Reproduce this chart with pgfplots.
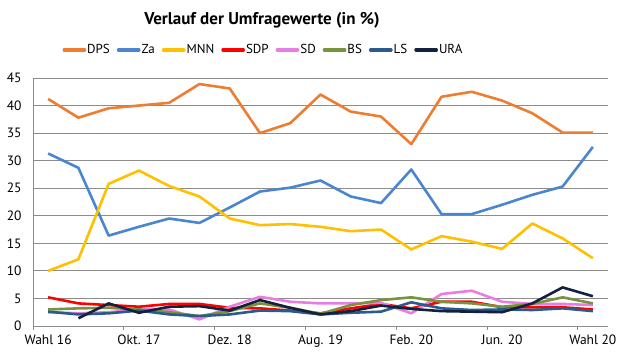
\documentclass[border=0pt]{standalone}
\usepackage{pgfplots}
\pgfplotsset{compat=1.18}
\usepackage{pgfplotstable}
\usepackage{fontspec}
\setmainfont{PT Sans}
\definecolor{cDPS}{HTML}{ED7D31}
\definecolor{cZa}{HTML}{4A86CF}
\definecolor{cMNN}{HTML}{FFC000}
\definecolor{cSDP}{HTML}{FF0000}
\definecolor{cSD}{HTML}{E87EE2}
\definecolor{cBS}{HTML}{77933C}
\definecolor{cLS}{HTML}{2B5A8E}
\definecolor{cURA}{HTML}{14213D}
\definecolor{gridc}{HTML}{8C8C8C}
\pgfplotstableread{
x DPS Za MNN SDP SD BS LS
0 41.2 31.3 10.0 5.2 2.5 3.0 2.6
1 37.8 28.7 12.1 4.1 2.3 3.2 2.1
2 39.5 16.4 25.8 3.8 2.5 3.3 2.3
3 40.0 18.0 28.2 3.5 3.0 3.0 2.8
4 40.5 19.5 25.4 4.0 3.0 2.5 2.1
5 43.9 18.7 23.5 4.0 1.2 1.8 1.8
6 43.1 21.5 19.5 3.3 3.5 2.7 2.1
7 35.0 24.4 18.3 3.2 5.3 4.1 2.8
8 36.8 25.1 18.5 2.8 4.4 3.3 2.7
9 42.0 26.4 18.0 2.3 4.1 2.2 2.1
10 38.9 23.5 17.2 3.2 4.1 3.8 2.4
11 38.0 22.3 17.5 4.0 4.2 4.7 2.6
12 33.0 28.4 13.9 3.2 2.3 5.2 4.3
13 41.6 20.3 16.3 4.4 5.8 4.4 3.2
14 42.5 20.3 15.3 4.4 6.4 4.1 2.9
15 40.9 22.0 14.0 3.4 4.4 3.5 3.0
16 38.6 23.8 18.6 3.4 4.0 4.0 2.9
17 35.1 25.3 15.9 3.4 4.0 5.2 3.2
18 35.1 32.5 12.3 3.0 3.8 4.1 2.7
}\datatable
\pgfplotstableread{
x URA
1 1.4
2 4.1
3 2.4
4 3.5
5 3.6
6 2.8
7 4.7
8 3.3
9 2.1
10 2.7
11 3.7
12 3.1
13 2.7
14 2.6
15 2.5
16 4.1
17 7.0
18 5.4
}\uratable
\begin{document}
\begin{tikzpicture}
\path[use as bounding box] (-33pt,-29pt) rectangle (593pt,326pt);
\begin{axis}[
  scale only axis,
  width=575pt, height=248pt,
  xmin=-0.5, xmax=18.5,
  ymin=0, ymax=45,
  ytick={0,5,...,45},
  xtick={0,3,...,18},
  xticklabels={Wahl 16,Okt. 17,Dez. 18,Aug. 19,Feb. 20,Jun. 20,Wahl 20},
  minor xtick={-0.5,2.5,...,17.5},
  axis x line*=bottom,
  axis y line*=left,
  axis line style={gridc, line width=0.9pt},
  ymajorgrids,
  grid style={gridc, line width=0.9pt},
  major tick length=0pt,
  minor tick length=4pt,
  tick align=outside,
  minor x tick style={gridc, line width=0.9pt},
  ticklabel style={font=\fontsize{13.5}{16}\selectfont, text=black},
  /pgf/number format/assume math mode=true,
  yticklabel style={xshift=-8pt},
  xticklabel style={yshift=-5pt},
  legend columns=8,
  legend style={at={(rel axis cs:0.4,1.113)}, anchor=center, draw=none, fill=none,
     font=\fontsize{13}{16}\selectfont, inner sep=0pt,
     nodes={inner xsep=1pt, inner ysep=1pt},
     /tikz/every odd column/.append style={column sep=0pt},
     /tikz/every even column/.append style={column sep=6pt}},
  legend cell align=left,
  legend image code/.code={\draw[#1, line width=3.2pt, line cap=round] (1.5pt,0pt) -- (22pt,0pt);},
  every axis plot/.append style={line width=2.6pt, line join=round, mark=none},
]
\addplot[cDPS] table[x=x,y=DPS] {\datatable};
\addlegendentry{DPS}
\addplot[cZa] table[x=x,y=Za] {\datatable};
\addlegendentry{Za}
\addplot[cMNN] table[x=x,y=MNN] {\datatable};
\addlegendentry{MNN}
\addplot[cSDP] table[x=x,y=SDP] {\datatable};
\addlegendentry{SDP}
\addplot[cSD] table[x=x,y=SD] {\datatable};
\addlegendentry{SD}
\addplot[cBS] table[x=x,y=BS] {\datatable};
\addlegendentry{BS}
\addplot[cLS] table[x=x,y=LS] {\datatable};
\addlegendentry{LS}
\addplot[cURA] table[x=x,y=URA] {\uratable};
\addlegendentry{URA}
\end{axis}
\node[font=\bfseries\fontsize{17}{20}\selectfont] at (229pt,306pt) {Verlauf der Umfragewerte (in \%)};
\end{tikzpicture}
\end{document}
